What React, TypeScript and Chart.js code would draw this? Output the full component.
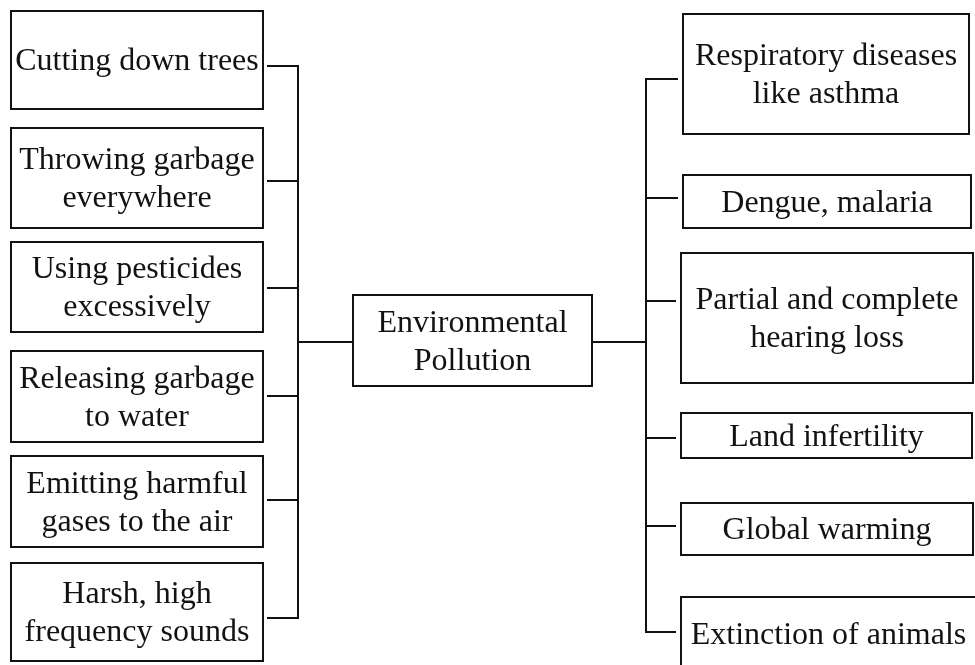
import React, { useEffect, useRef } from "react";
import { Chart, registerables } from "chart.js";

Chart.register(...registerables);

// ---- Content ----
const centerLabel = ["Environmental", "Pollution"];
const causeLabels = [
  ["Cutting down trees"],
  ["Throwing garbage", "everywhere"],
  ["Using pesticides", "excessively"],
  ["Releasing garbage", "to water"],
  ["Emitting harmful", "gases to the air"],
  ["Harsh, high", "frequency sounds"],
];
const effectLabels = [
  ["Respiratory diseases", "like asthma"],
  ["Dengue, malaria"],
  ["Partial and complete", "hearing loss"],
  ["Land infertility"],
  ["Global warming"],
  ["Extinction of animals"],
];

// ---- Values (diagram units) ----
const causeTop = [11, 128, 242, 351, 456, 563];
const causeBottom = [109, 228, 332, 442, 547, 661];
const causeLink = [66, 181, 288, 396, 500, 618];
const causeLeft = [11, 11, 11, 11, 11, 11];
const causeRight = [263, 263, 263, 263, 263, 263];

const effectTop = [14, 175, 253, 413, 503, 597];
const effectBottom = [134, 228, 383, 458, 555, 675];
const effectLink = [79, 198, 301, 438, 526, 632];
const effectLeft = [683, 683, 681, 681, 681, 681];
const effectRight = [969, 971, 973, 972, 973, 990];

const centerBox = [353, 295, 592, 386]; // left, top, right, bottom
const causeSpineX = 298;
const effectSpineX = 646;
const centerLinkY = 342;

const FONT = "32px 'Liberation Serif', 'Times New Roman', serif";
const LINE_H = 38;
const INK = "#121212";

type Pt = { x: number; y: number };

function rect(l: number, t: number, r: number, b: number): Pt[] {
  return [
    { x: l, y: t },
    { x: r, y: t },
    { x: r, y: b },
    { x: l, y: b },
    { x: l, y: t },
  ];
}

function lineDs(data: Pt[]) {
  return {
    data,
    showLine: true,
    pointRadius: 0,
    pointHoverRadius: 0,
    borderColor: INK,
    borderWidth: 2,
    fill: false,
    tension: 0,
    borderJoinStyle: "miter" as const,
    borderCapStyle: "square" as const,
  };
}

export default function App() {
  const ref = useRef<HTMLCanvasElement | null>(null);

  useEffect(() => {
    if (!ref.current) return;

    const datasets: any[] = [];
    for (let i = 0; i < causeLabels.length; i++) {
      datasets.push(lineDs(rect(causeLeft[i], causeTop[i], causeRight[i], causeBottom[i])));
      datasets.push(
        lineDs([
          { x: causeRight[i] + 5, y: causeLink[i] },
          { x: causeSpineX, y: causeLink[i] },
        ])
      );
    }
    datasets.push(
      lineDs([
        { x: causeSpineX, y: causeLink[0] },
        { x: causeSpineX, y: causeLink[causeLink.length - 1] },
      ])
    );
    datasets.push(
      lineDs([
        { x: causeSpineX, y: centerLinkY },
        { x: centerBox[0], y: centerLinkY },
      ])
    );
    datasets.push(lineDs(rect(centerBox[0], centerBox[1], centerBox[2], centerBox[3])));
    datasets.push(
      lineDs([
        { x: centerBox[2], y: centerLinkY },
        { x: effectSpineX, y: centerLinkY },
      ])
    );
    datasets.push(
      lineDs([
        { x: effectSpineX, y: effectLink[0] },
        { x: effectSpineX, y: effectLink[effectLink.length - 1] },
      ])
    );
    for (let i = 0; i < effectLabels.length; i++) {
      datasets.push(
        lineDs([
          { x: effectSpineX, y: effectLink[i] },
          { x: effectLeft[i] - 6, y: effectLink[i] },
        ])
      );
      datasets.push(lineDs(rect(effectLeft[i], effectTop[i], effectRight[i], effectBottom[i])));
    }

    const textPlugin = {
      id: "boxText",
      afterDatasetsDraw(chart: any) {
        const { ctx, scales } = chart;
        const xs = scales.x;
        const ys = scales.y;
        ctx.save();
        ctx.font = FONT;
        ctx.fillStyle = INK;
        ctx.textAlign = "center";
        ctx.textBaseline = "middle";
        const put = (lines: string[], cx: number, cy: number) => {
          const px = xs.getPixelForValue(cx);
          const py = ys.getPixelForValue(cy);
          const start = py - ((lines.length - 1) * LINE_H) / 2;
          lines.forEach((s, k) => ctx.fillText(s, px, start + k * LINE_H));
        };
        causeLabels.forEach((lines, i) =>
          put(lines, (causeLeft[i] + causeRight[i]) / 2, (causeTop[i] + causeBottom[i]) / 2 + 2)
        );
        effectLabels.forEach((lines, i) => {
          const last = i === effectLabels.length - 1;
          const cy = last ? effectLink[i] + 4 : (effectTop[i] + effectBottom[i]) / 2 + 2;
          const right = last ? 976 : effectRight[i];
          put(lines, (effectLeft[i] + right) / 2, cy);
        });
        put(centerLabel, (centerBox[0] + centerBox[2]) / 2, (centerBox[1] + centerBox[3]) / 2 + 2);
        ctx.restore();
      },
    };

    const chart = new Chart(ref.current, {
      type: "scatter",
      data: { datasets },
      options: {
        animation: false,
        responsive: true,
        maintainAspectRatio: false,
        layout: { padding: 0 },
        plugins: { legend: { display: false }, tooltip: { enabled: false } },
        events: [],
        scales: {
          x: { type: "linear", min: 0, max: 975, display: false },
          y: { type: "linear", min: 0, max: 665, reverse: true, display: false },
        },
      },
      plugins: [textPlugin],
    });
    return () => chart.destroy();
  }, []);

  return (
    <div
      style={{
        position: "absolute",
        left: 0,
        top: 0,
        width: 975,
        height: 665,
        background: "#ffffff",
      }}
    >
      <canvas ref={ref} />
    </div>
  );
}
